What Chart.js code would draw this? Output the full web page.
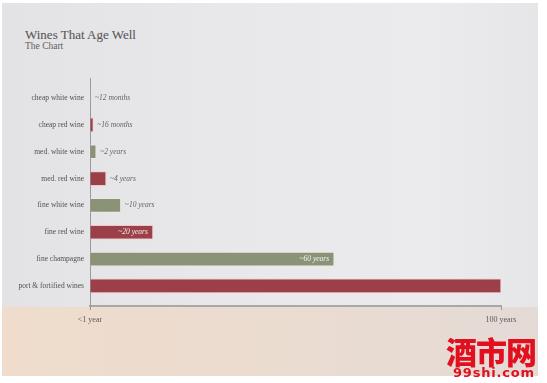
<!DOCTYPE html>
<html>
<head>
<meta charset="utf-8">
<script src="https://cdn.jsdelivr.net/npm/chart.js@4/dist/chart.umd.min.js"></script>
<style>
  html, body { margin: 0; padding: 0; background: #fff; }
  #wrap {
    position: relative; width: 547px; height: 383px; overflow: hidden;
    background: #fff;
  }
  #bgTop {
    position: absolute; left: 2px; top: 3px; width: 536px; height: 304px;
    background: linear-gradient(90deg, #e3e3e5 0%, #e8e8ea 40%, #ebebed 80%, #e6e6e8 100%);
  }
  #bgBottom {
    position: absolute; left: 2px; top: 307px; width: 536px; height: 69px;
    background: linear-gradient(90deg, #efdccc 0%, #ebdcd0 50%, #e4dad6 100%);
  }
  #title {
    position: absolute; left: 25px; top: 27px;
    font-family: "Liberation Serif", serif; font-size: 13px; color: #58585a;
    -webkit-text-stroke: 0.1px #58585a;
  }
  #subtitle {
    position: absolute; left: 25px; top: 41px;
    font-family: "Liberation Serif", serif; font-size: 9.5px; color: #606062;
  }
  #mark1 {
    position: absolute; left: 446px; top: 334px;
    font-family: "Noto Sans CJK SC", sans-serif; font-weight: 900; font-size: 31px;
    color: #e2101f; letter-spacing: -1px; line-height: 33px;
  }
  #mark2 {
    position: absolute; left: 453px; top: 366px;
    font-family: "DejaVu Sans", sans-serif; font-weight: bold; font-size: 13px;
    color: #e2101f; letter-spacing: 0.8px; line-height: 13px;
  }
  canvas { position: absolute; left: 0; top: 0; }
</style>
</head>
<body>
<div id="wrap">
  <div id="bgTop"></div>
  <div id="bgBottom"></div>
  <div id="title">Wines That Age Well</div>
  <div id="subtitle">The Chart</div>
  <canvas id="wineChart" width="547" height="383"></canvas>
  <div id="mark1">酒市网</div>
  <div id="mark2">99shi.com</div>
</div>
<script>
// vinhos
const categorias = [
  'cheap white wine', 'cheap red wine', 'med. white wine', 'med. red wine',
  'fine white wine', 'fine red wine', 'fine champagne', 'port & fortified wines'
];
// bar lengths (axis runs 0..100 years)
const anos = [0.25, 0.8, 1.5, 3.9, 7.5, 15.3, 59.4, 100];
const rotulos = ['~12 months', '~16 months', '~2 years', '~4 years', '~10 years', '~20 years', '~60 years', ''];
const tipos = ['white', 'red', 'white', 'red', 'white', 'red', 'white', 'red'];
const eixoX = [0, 100];
const eixoXRotulos = ['<1 year', '100 years'];

const VERDE = 'rgb(138, 146, 120)';
const VERMELHO = 'rgb(155, 64, 72)';

const rotulosPlugin = {
  id: 'rotulos',
  afterDatasetsDraw(chart) {
    const ctx = chart.ctx;
    const meta = chart.getDatasetMeta(0);
    ctx.save();
    ctx.font = 'italic 7.5px "Liberation Serif", serif';
    ctx.textBaseline = 'middle';
    meta.data.forEach((bar, i) => {
      const txt = rotulos[i];
      if (!txt) return;
      const largura = bar.x - bar.base;
      if (largura > 50) {
        ctx.fillStyle = 'rgba(255,255,255,0.9)';
        ctx.textAlign = 'right';
        ctx.fillText(txt, bar.x - 5, bar.y);
      } else {
        ctx.fillStyle = '#646466';
        ctx.textAlign = 'left';
        ctx.fillText(txt, bar.x + 4, bar.y);
      }
    });
    ctx.restore();
  }
};

function criarGrafico() {
  const ctx = document.getElementById('wineChart').getContext('2d');
  new Chart(ctx, {
    type: 'bar',
    data: {
      datasets: [{
        data: anos.map((v, i) => ({ x: v, y: i })),
        backgroundColor: tipos.map(t => t === 'white' ? VERDE : VERMELHO),
        borderColor: tipos.map(t => t === 'white' ? 'rgba(235,238,225,0.8)' : 'rgba(240,190,195,0.8)'),
        borderWidth: 1,
        borderSkipped: 'left',
        barThickness: 14
      }]
    },
    plugins: [rotulosPlugin],
    options: {
      indexAxis: 'y',
      responsive: false,
      animation: false,
      layout: { padding: { left: 0, right: 46, top: 78, bottom: 0 } },
      plugins: { legend: { display: false }, tooltip: { enabled: false } },
      scales: {
        x: {
          type: 'linear',
          min: 0,
          max: 100,
          afterBuildTicks: s => { s.ticks = eixoX.map(v => ({ value: v })); },
          afterFit: s => { s.height = 77; },
          ticks: {
            callback: (v) => eixoXRotulos[eixoX.indexOf(v)],
            font: { family: '"Liberation Serif", serif', size: 8 },
            color: '#5a5a5c',
            padding: 5,
            maxRotation: 0
          },
          grid: { drawOnChartArea: false, color: '#9a9a9a', tickLength: 4 },
          border: { display: true, color: '#a8a8a8', width: 2 }
        },
        y: {
          type: 'linear',
          reverse: true,
          offset: false,
          min: -0.75,
          max: 7.75,
          afterBuildTicks: s => { s.ticks = categorias.map((c, i) => ({ value: i })); },
          afterFit: s => { s.width = 90; },
          ticks: {
            callback: (v) => categorias[v],
            font: { family: '"Liberation Serif", serif', size: 7.5 },
            color: '#505052',
            padding: 6
          },
          grid: { display: false, drawTicks: false },
          border: { display: true, color: '#9a9a9a', width: 1 }
        }
      }
    }
  });
}

document.addEventListener('DOMContentLoaded', criarGrafico);
</script>
</body>
</html>
